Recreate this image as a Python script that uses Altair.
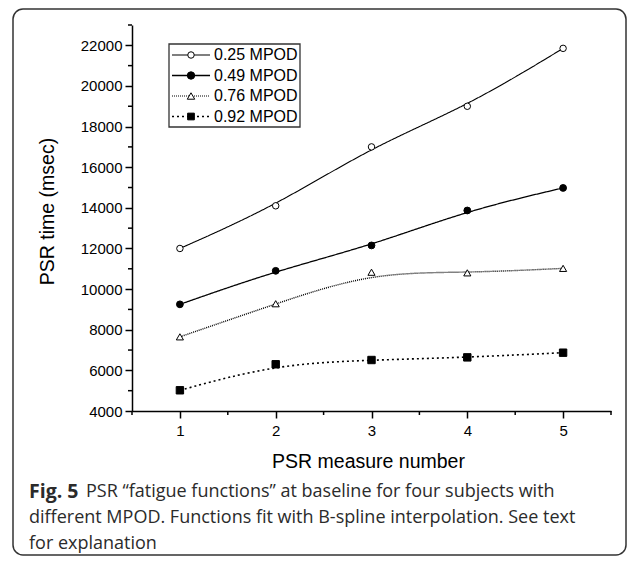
import altair as alt
import pandas as pd

# ---------------- data ----------------
measure = [1, 2, 3, 4, 5]
series_names = ["0.25 MPOD", "0.49 MPOD", "0.76 MPOD", "0.92 MPOD"]
s025 = [12000, 14100, 17000, 19000, 21850]
s049 = [9250, 10900, 12150, 13870, 14980]
s076 = [7650, 9280, 10830, 10800, 11020]
s092 = [5020, 6300, 6510, 6640, 6870]

x_ticks = [1, 2, 3, 4, 5]
x_minor = [0.5, 1.5, 2.5, 3.5, 4.5, 5.5]
y_ticks = [4000, 6000, 8000, 10000, 12000, 14000, 16000, 18000, 20000, 22000]
y_minor = [5000, 7000, 9000, 11000, 13000, 15000, 17000, 19000, 21000, 23000]

caption_bold = "Fig. 5"
caption_line1 = "PSR \u201cfatigue functions\u201d at baseline for four subjects with"
caption_line2 = "different MPOD. Functions fit with B-spline interpolation. See text"
caption_line3 = "for explanation"

rows = []
for name, vals in zip(series_names, [s025, s049, s076, s092]):
    for m, v in zip(measure, vals):
        rows.append({"series": name, "measure": m, "time": v})
df = pd.DataFrame(rows)
one = pd.DataFrame({"k": [0]})

# ---------------- scales ----------------
W, H = 479, 386
xs = alt.Scale(domain=[0.5, 5.5], nice=False, zero=False)
ys = alt.Scale(domain=[4000, 23000], nice=False, zero=False)
shapes = ["circle", "circle", "triangle-up", "square"]
fills = ["white", "black", "white", "black"]
sizes = [42, 55, 55, 45]
dashes = [[1, 0], [1, 0], [1, 1], [2, 3]]
widths = [1.1, 1.6, 1.0, 1.3]
shape_scale = alt.Scale(domain=series_names, range=shapes)
fill_scale = alt.Scale(domain=series_names, range=fills)
size_scale = alt.Scale(domain=series_names, range=sizes)
dash_scale = alt.Scale(domain=series_names, range=dashes)
width_scale = alt.Scale(domain=series_names, range=widths)

AX = dict(
    domainColor="black", domainWidth=1.5, tickColor="black", tickWidth=1.5,
    tickSize=7, labelColor="black", labelFontSize=15, labelFont="Liberation Sans",
    titleFont="Liberation Sans", titleFontSize=19.5, titleFontWeight="normal",
    titleColor="black", grid=False,
)
x_axis = alt.Axis(values=x_ticks, format="d", labelPadding=5, title="PSR measure number",
                  titleX=236, titleY=50, titleBaseline="middle", titleAlign="center", **AX)
y_axis = alt.Axis(values=y_ticks, format="d", labelPadding=3, title="PSR time (msec)",
                  titleX=-85, titleY=186, titleAngle=-90, titleBaseline="middle",
                  titleAlign="center", **AX)

X = alt.X("measure:Q", scale=xs, axis=x_axis)
Y = alt.Y("time:Q", scale=ys, axis=y_axis)

# ---------------- frame ----------------
frame = alt.Chart(one).mark_rect(
    fillOpacity=0, stroke="#333333", strokeWidth=1.5, cornerRadius=10
).encode(x=alt.value(-119), x2=alt.value(494), y=alt.value(-16), y2=alt.value(530))

# ---------------- main data ----------------
lines = alt.Chart(df).mark_line(interpolate="basis", color="black").encode(
    x=X, y=Y,
    detail="series:N",
    strokeDash=alt.StrokeDash("series:N", scale=dash_scale, legend=None),
    strokeWidth=alt.StrokeWidth("series:N", scale=width_scale, legend=None),
)
points = alt.Chart(df).mark_point(filled=True, stroke="black", strokeWidth=1, opacity=1).encode(
    x=X, y=Y,
    shape=alt.Shape("series:N", scale=shape_scale, legend=None),
    fill=alt.Fill("series:N", scale=fill_scale, legend=None),
    size=alt.Size("series:N", scale=size_scale, legend=None),
)

# ---------------- minor ticks (same fields / scales as the data) ----------------
xminor = alt.Chart(pd.DataFrame({"measure": x_minor})).mark_rule(color="black", strokeWidth=1.5).encode(
    x=X, y=alt.value(H), y2=alt.value(H + 4)
)
yminor = alt.Chart(pd.DataFrame({"time": y_minor})).mark_rule(color="black", strokeWidth=1.5).encode(
    y=Y, x=alt.value(0), x2=alt.value(-4)
)

# ---------------- legend ----------------
legend_layers = [
    alt.Chart(one).mark_rect(fill="white", stroke="#333333", strokeWidth=1.3).encode(
        x=alt.value(37), x2=alt.value(168), y=alt.value(19), y2=alt.value(102))
]
for i, name in enumerate(series_names):
    py = 30 + i * 20.5
    legend_layers.append(
        alt.Chart(one).mark_rule(color="black", strokeDash=dashes[i], strokeWidth=widths[i]).encode(
            x=alt.value(40), x2=alt.value(78), y=alt.value(py)))
    legend_layers.append(
        alt.Chart(one).mark_point(filled=True, stroke="black", strokeWidth=1, opacity=1,
                                  shape=shapes[i], fill=fills[i], size=sizes[i]).encode(
            x=alt.value(59), y=alt.value(py)))
    legend_layers.append(
        alt.Chart(one).mark_text(align="left", baseline="middle", fontSize=16,
                                 font="Liberation Sans", color="black").encode(
            x=alt.value(82), y=alt.value(py), text=alt.value(name)))

# ---------------- caption ----------------
cap_kw = dict(align="left", baseline="middle", font="Open Sans", color="#2b2b2b")
cap0 = alt.Chart(one).mark_text(fontWeight="bold", fontSize=19.5, **cap_kw).encode(
    x=alt.value(-103), y=alt.value(467), text=alt.value(caption_bold))
cap1 = alt.Chart(one).mark_text(fontSize=18, **cap_kw).encode(
    x=alt.value(-46), y=alt.value(467), text=alt.value(caption_line1))
cap2 = alt.Chart(one).mark_text(fontSize=18, **cap_kw).encode(
    x=alt.value(-103), y=alt.value(493), text=alt.value(caption_line2))
cap3 = alt.Chart(one).mark_text(fontSize=18, **cap_kw).encode(
    x=alt.value(-103), y=alt.value(519), text=alt.value(caption_line3))

chart = alt.layer(
    frame, lines, points, xminor, yminor, *legend_layers, cap0, cap1, cap2, cap3,
).properties(
    width=W, height=H,
    autosize=alt.AutoSizeParams(type="none"),
    padding={"left": 124, "top": 17, "right": 16, "bottom": 146},
).configure_view(stroke=None)

chart.save("out.html", embed_options={"renderer": "svg", "actions": False})
